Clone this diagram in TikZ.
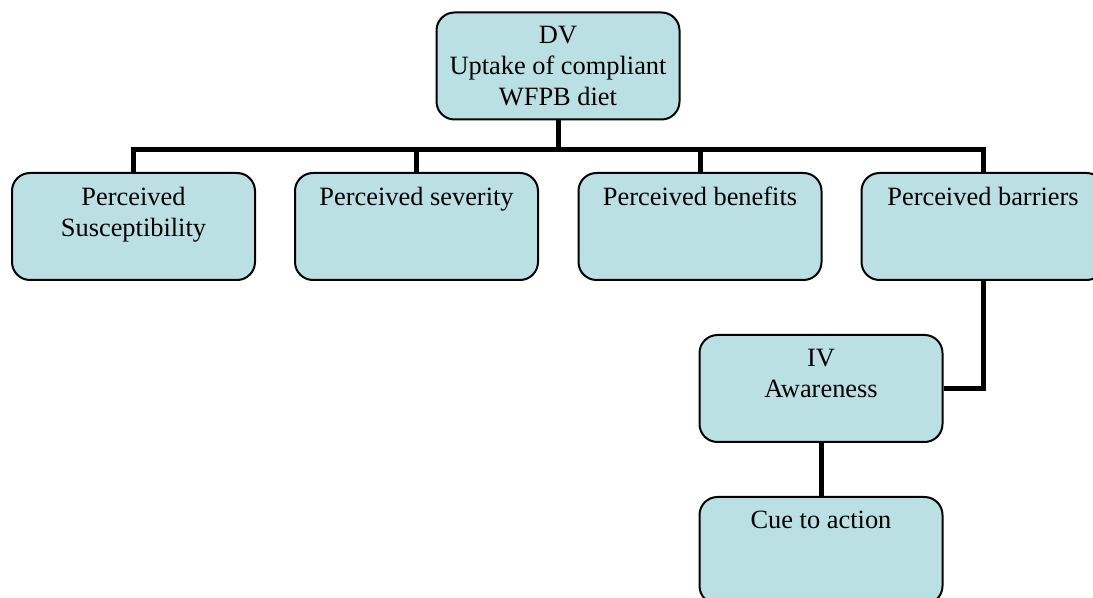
\documentclass[tikz,border=0pt]{standalone}
\usepackage{fontspec}
\setmainfont{Liberation Serif}
\definecolor{boxfill}{RGB}{187,224,227}
% top-aligned text inside a fixed-size box
\newcommand{\boxlines}[1]{\parbox[c][53.5pt][t]{120pt}{\centering\vspace{7pt}#1}}

\begin{document}
\begin{tikzpicture}[x=0.5pt, y=-0.5pt,
    stage/.style={draw=black, line width=1pt, fill=boxfill, rounded corners=9pt,
                  inner sep=0pt, minimum width=121.5pt, minimum height=53.5pt,
                  font=\fontsize{13.2}{15.4}\selectfont},
    link/.style={line width=2.5pt}]
  \clip (0,0) rectangle (1093,598);
  % dependent variable
  \node[stage] (dv) at (558,66) {\boxlines{DV\\Uptake of compliant\\WFPB diet}};
  % HBM constructs
  \node[stage] (susc) at (133.5,226.5) {\boxlines{Perceived\\Susceptibility}};
  \node[stage] (sev)  at (416.5,226.5) {\boxlines{Perceived severity}};
  \node[stage] (ben)  at (700,226.5)   {\boxlines{Perceived benefits}};
  \node[stage] (bar)  at (983,226.5)   {\boxlines{Perceived barriers}};
  % independent variable and cue
  \node[stage] (iv)  at (821,388.5) {\boxlines{IV\\Awareness}};
  \node[stage] (cue) at (821,550.5) {\boxlines{Cue to action}};
  % connectors
  \coordinate (hub) at (558,150);
  \draw[link] (dv.south) -- (hub);
  \draw[link] (susc.north) |- (hub) -| (bar.north);
  \draw[link] (sev.north) -- (sev.north |- hub);
  \draw[link] (ben.north) -- (ben.north |- hub);
  \draw[link] (bar.south) |- (iv.east);
  \draw[link] (iv.south) -- (cue.north);
\end{tikzpicture}
\end{document}
